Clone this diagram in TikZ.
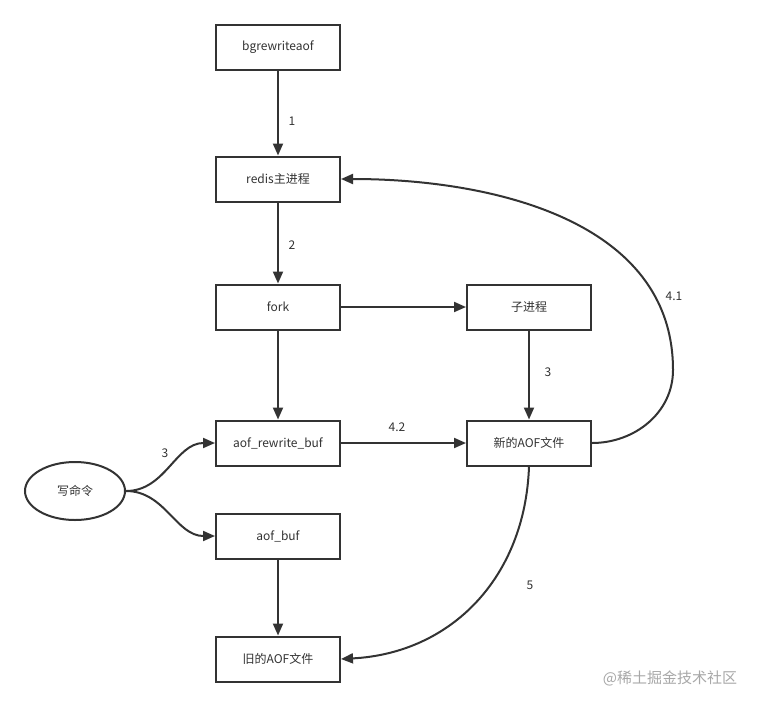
\documentclass[tikz,border=0pt]{standalone}
\usepackage{fontspec}
\setmainfont{Noto Sans CJK SC}
\usetikzlibrary{arrows.meta,shapes.geometric}
\definecolor{ln}{HTML}{333333}
\definecolor{wm}{HTML}{A8A8A8}
\begin{document}
\begin{tikzpicture}[x=1pt,y=-1pt,
  box/.style={draw=ln,line width=2pt,minimum width=124pt,minimum height=45pt,inner sep=0pt,font=\fontsize{12}{14}\selectfont,text=ln},
  oval/.style={draw=ln,line width=2pt,ellipse,minimum width=100pt,minimum height=58pt,inner sep=0pt,font=\fontsize{12}{14}\selectfont,text=ln},
  conn/.style={draw=ln,line width=2pt,-{Triangle[length=12pt,width=10pt]}},
  lab/.style={font=\fontsize{12}{14}\selectfont,text=ln,inner sep=0pt}]
\useasboundingbox (0,0) rectangle (762,707);
\fill[white] (0,0) rectangle (762,707);
\node[box] (bg) at (278,47) {bgrewriteaof};
\node[box] (redis) at (278,179) {redis主进程};
\node[box] (fork) at (278,307) {fork};
\node[box] (child) at (529,307) {子进程};
\node[box] (arb) at (278,443) {aof\_rewrite\_buf};
\node[box] (newaof) at (529,443) {新的AOF文件};
\node[oval] (cmd) at (75,491) {写命令};
\node[box] (ab) at (278,536) {aof\_buf};
\node[box] (oldaof) at (278,659) {旧的AOF文件};
\coordinate (r41) at (673,370);
\draw[conn] (bg) -- (redis);
\draw[conn] (redis) -- (fork);
\draw[conn] (fork) -- (child);
\draw[conn] (fork) -- (arb);
\draw[conn] (child) -- (newaof);
\draw[conn] (arb) -- (newaof);
\draw[conn] (ab) -- (oldaof);
\draw[conn] (cmd.east) to[out=0,in=180] (arb.west);
\draw[conn] (cmd.east) to[out=0,in=180] (ab.west);
\draw[conn] (newaof.east) to[out=0,in=-90] (r41) to[out=90,in=0] (redis.east);
\draw[conn] (newaof.south) to[out=-92,in=3,looseness=1.05] (oldaof.east);
\node[lab] (l1) at (292,121) {1};
\node[lab] (l2) at (292,245) {2};
\node[lab] (l3a) at (548,372) {3};
\node[lab] (l3b) at (165,453) {3};
\node[lab] (l42) at (397,427) {4.2};
\node[lab] (l41) at (674,296) {4.1};
\node[lab] (l5) at (530,585) {5};
\node[font=\fontsize{15}{17}\selectfont,text=wm,inner sep=0pt] (wmk) at (670,678) {@稀土掘金技术社区};
\end{tikzpicture}
\end{document}
